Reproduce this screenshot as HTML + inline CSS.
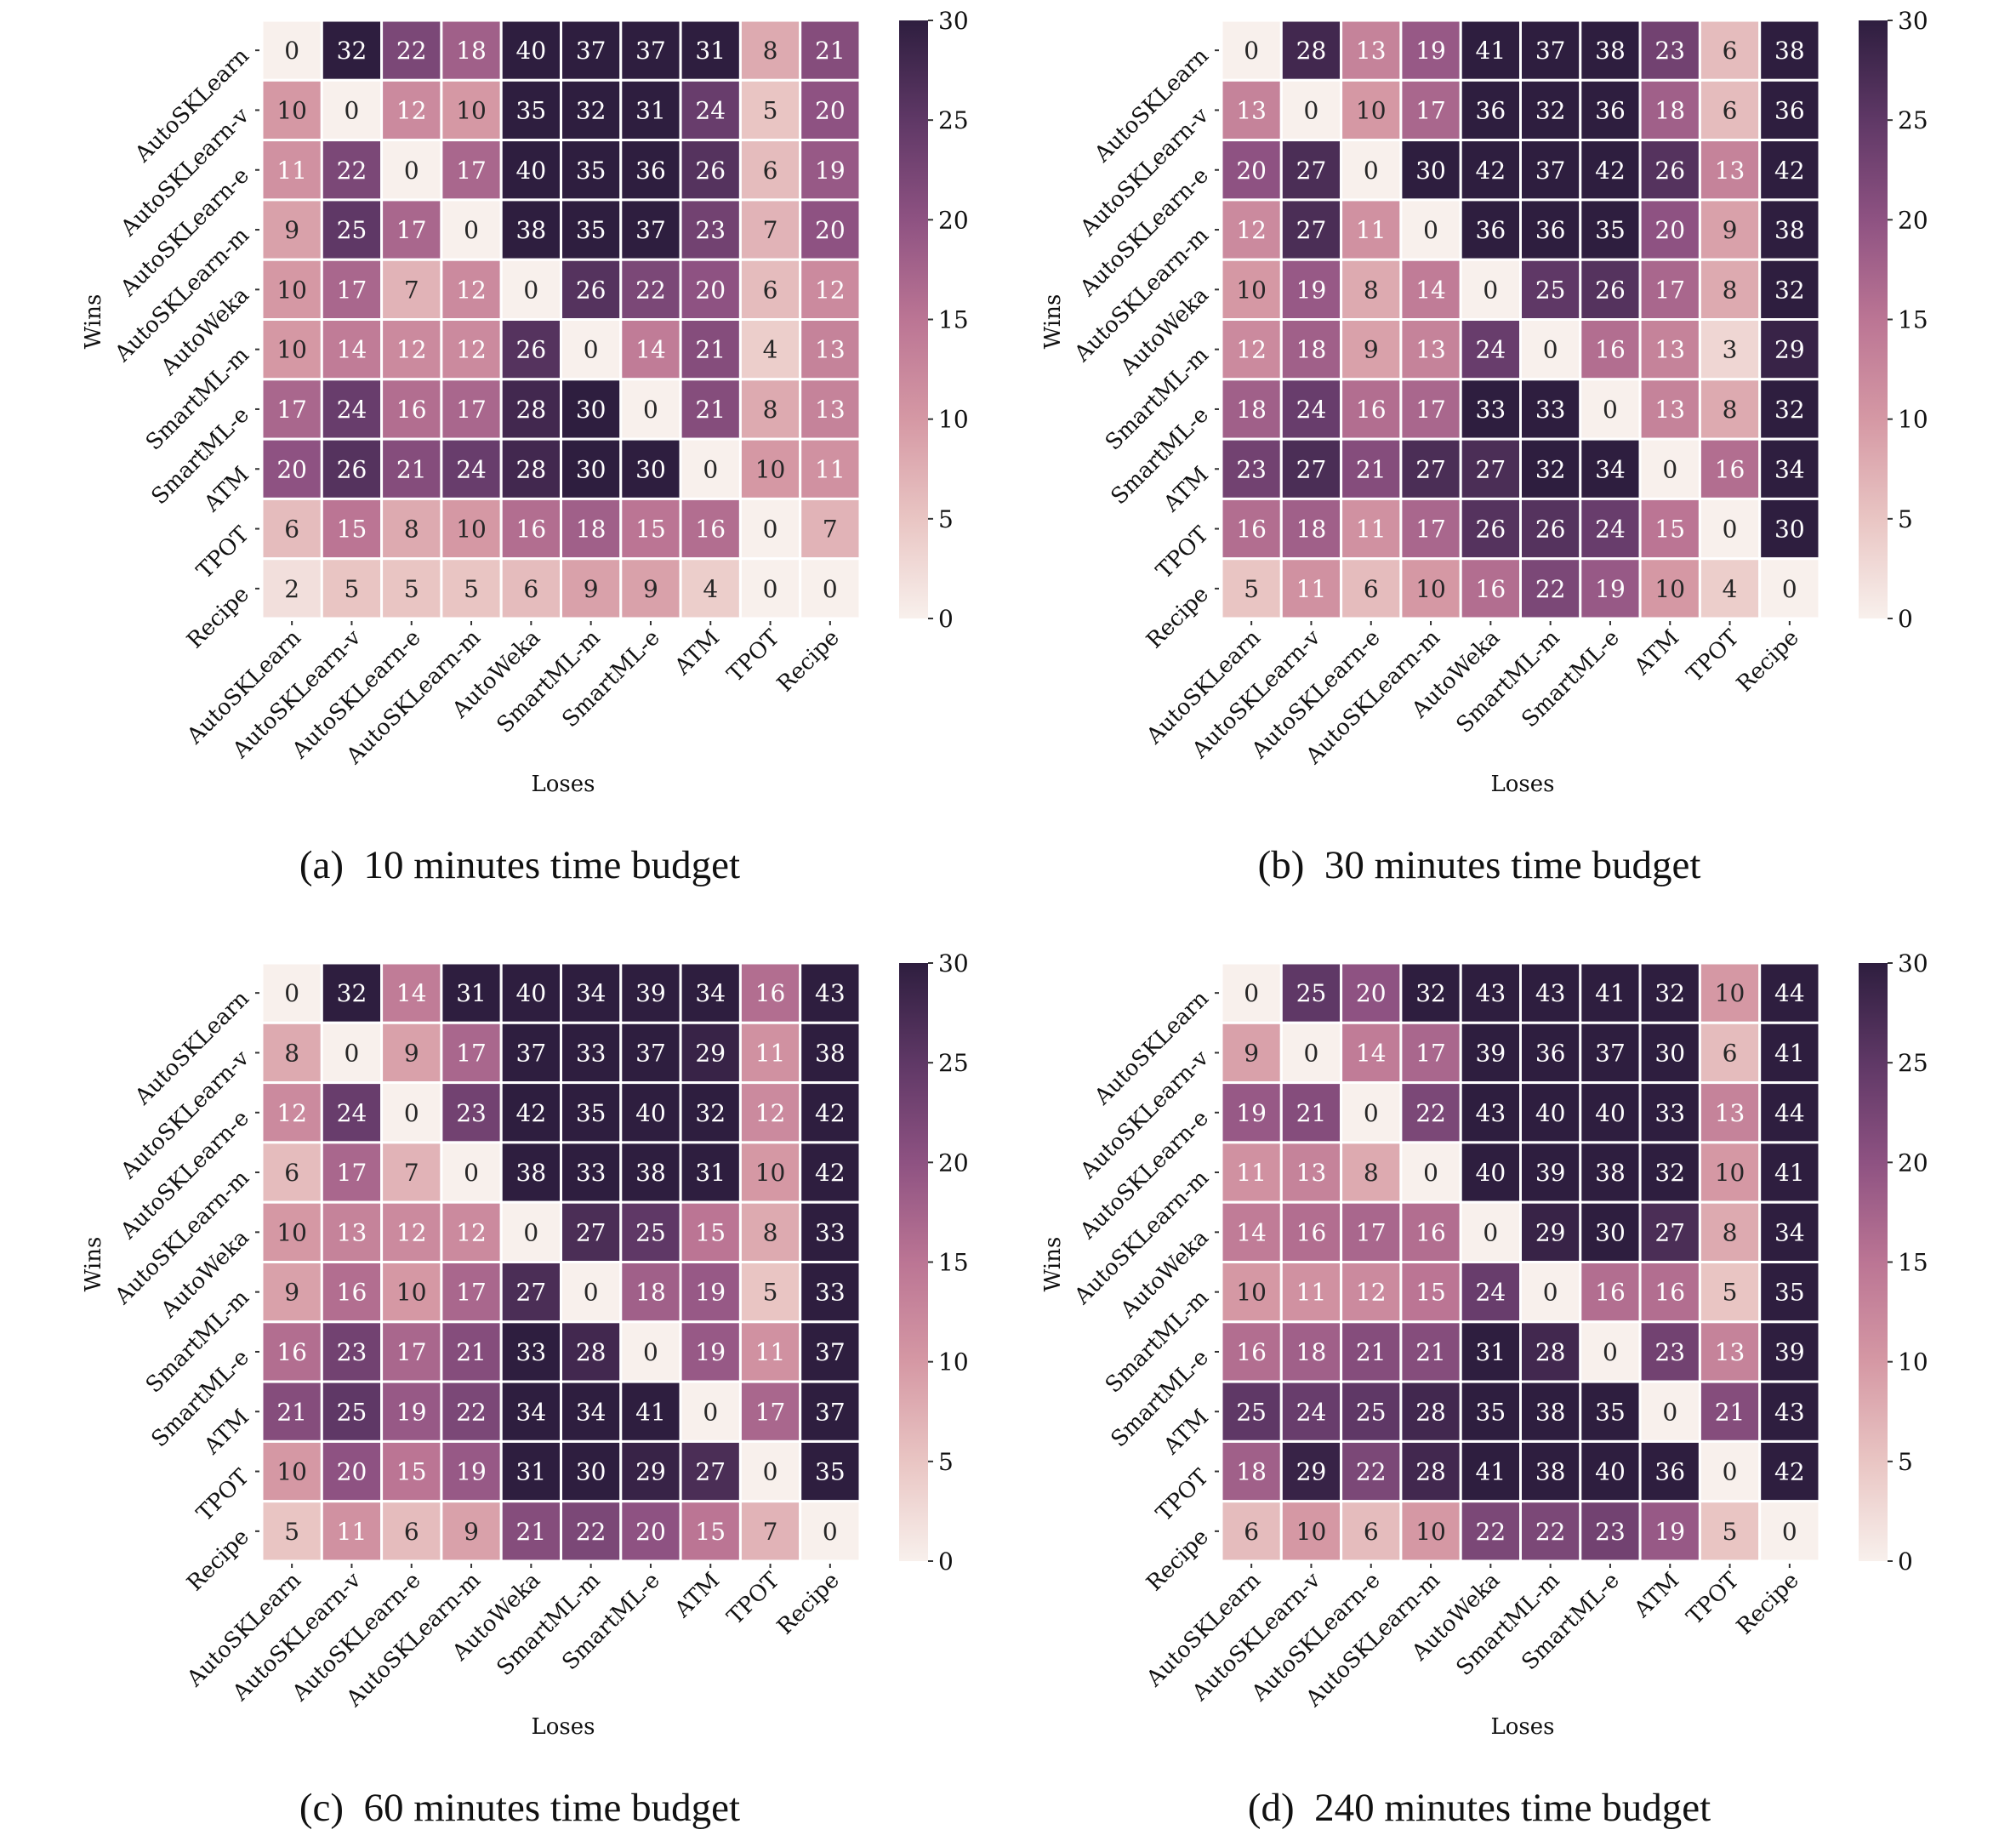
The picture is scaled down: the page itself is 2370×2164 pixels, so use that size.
<!DOCTYPE html>
<html><head><meta charset="utf-8"><style>
html,body{margin:0;padding:0;background:#fff;}
svg{display:block;}
text{font-family:"DejaVu Serif","Liberation Serif",serif;}
.cap{font-family:"Liberation Serif",serif;font-size:47px;white-space:pre;}
</style></head><body>
<svg id="fig" width="2370" height="2164" viewBox="0 0 2370 2164" xmlns="http://www.w3.org/2000/svg">
<defs>
<linearGradient id="cbg" x1="0" y1="1" x2="0" y2="0">
<stop offset="0" stop-color="#f8f0ec"/><stop offset="0.1667" stop-color="#e9c5c3"/><stop offset="0.3333" stop-color="#d598a4"/><stop offset="0.5" stop-color="#bb7594"/><stop offset="0.6667" stop-color="#8e5282"/><stop offset="0.8333" stop-color="#5f3866"/><stop offset="1" stop-color="#2e1e3f"/>
</linearGradient>
</defs>
</svg>
<script>
const labels = ["AutoSKLearn","AutoSKLearn-v","AutoSKLearn-e","AutoSKLearn-m","AutoWeka","SmartML-m","SmartML-e","ATM","TPOT","Recipe"];
const cbTicks = [0,5,10,15,20,25,30];
const captions = ["(a)  10 minutes time budget","(b)  30 minutes time budget","(c)  60 minutes time budget","(d)  240 minutes time budget"];
const dataA = [
[0,32,22,18,40,37,37,31,8,21],[10,0,12,10,35,32,31,24,5,20],[11,22,0,17,40,35,36,26,6,19],[9,25,17,0,38,35,37,23,7,20],
[10,17,7,12,0,26,22,20,6,12],[10,14,12,12,26,0,14,21,4,13],[17,24,16,17,28,30,0,21,8,13],[20,26,21,24,28,30,30,0,10,11],
[6,15,8,10,16,18,15,16,0,7],[2,5,5,5,6,9,9,4,0,0]];
const dataB = [
[0,28,13,19,41,37,38,23,6,38],[13,0,10,17,36,32,36,18,6,36],[20,27,0,30,42,37,42,26,13,42],[12,27,11,0,36,36,35,20,9,38],
[10,19,8,14,0,25,26,17,8,32],[12,18,9,13,24,0,16,13,3,29],[18,24,16,17,33,33,0,13,8,32],[23,27,21,27,27,32,34,0,16,34],
[16,18,11,17,26,26,24,15,0,30],[5,11,6,10,16,22,19,10,4,0]];
const dataC = [
[0,32,14,31,40,34,39,34,16,43],[8,0,9,17,37,33,37,29,11,38],[12,24,0,23,42,35,40,32,12,42],[6,17,7,0,38,33,38,31,10,42],
[10,13,12,12,0,27,25,15,8,33],[9,16,10,17,27,0,18,19,5,33],[16,23,17,21,33,28,0,19,11,37],[21,25,19,22,34,34,41,0,17,37],
[10,20,15,19,31,30,29,27,0,35],[5,11,6,9,21,22,20,15,7,0]];
const dataD = [
[0,25,20,32,43,43,41,32,10,44],[9,0,14,17,39,36,37,30,6,41],[19,21,0,22,43,40,40,33,13,44],[11,13,8,0,40,39,38,32,10,41],
[14,16,17,16,0,29,30,27,8,34],[10,11,12,15,24,0,16,16,5,35],[16,18,21,21,31,28,0,23,13,39],[25,24,25,28,35,38,35,0,21,43],
[18,29,22,28,41,38,40,36,0,42],[6,10,6,10,22,22,23,19,5,0]];

const stops=[[0,[248,240,236]],[5,[233,197,195]],[10,[213,152,164]],[15,[187,117,148]],[20,[142,82,130]],[25,[95,56,102]],[30,[46,30,63]]];
function color(v){v=Math.max(0,Math.min(30,v));for(let i=0;i<stops.length-1;i++){const[a,ca]=stops[i],[b,cb]=stops[i+1];if(v<=b){const t=(v-a)/(b-a);return 'rgb('+ca.map((c,k)=>Math.round(c+(cb[k]-c)*t)).join(',')+')';}}return 'rgb(46,30,63)';}
const NS="http://www.w3.org/2000/svg";
const svg=document.getElementById('fig');
function mk(tag,attrs,parent,txt){const e=document.createElementNS(NS,tag);for(const k in attrs)e.setAttribute(k,attrs[k]);if(txt!==undefined)e.textContent=txt;parent.appendChild(e);return e;}
const L=308,T=24,P=70.3;
function xs(j){return L+j*P;} function ys(i){return T+i*P;}
function cbY(v){return T+10*P-(v/30)*10*P;}
const panels=[[dataA,0,0],[dataB,1128,0],[dataC,0,1108],[dataD,1128,1108]];
panels.forEach(([data,ox,oy],p)=>{
  const g=mk('g',{transform:`translate(${ox},${oy})`},svg);
  
  
  data.forEach((row,i)=>row.forEach((v,j)=>{
    const r=mk('rect',{x:xs(j),y:ys(i),width:P,height:P,fill:color(v),stroke:'#fff','stroke-width':3},g);
    
    
    const t=mk('text',{x:xs(j)+P/2,y:ys(i)+P/2+10,'text-anchor':'middle','font-size':28,fill:v>10?'#fff':'#262626'},g,String(v));
    
    
  }));
  labels.forEach((lab,i)=>{
    const cy=ys(i)+P/2;
    mk('line',{x1:L-8,x2:L-3,y1:cy,y2:cy,stroke:'#333','stroke-width':2},g);
    const t=mk('text',{x:L-14,y:cy+8,'text-anchor':'end','font-size':26,fill:'#111',transform:`rotate(-45 ${L-14} ${cy+8})`},g,lab);
    
    
    const cx=xs(i)+P/2;
    mk('line',{x1:cx,x2:cx,y1:T+10*P+3,y2:T+10*P+8,stroke:'#333','stroke-width':2},g);
    const t2=mk('text',{x:cx+12,y:T+10*P+24,'text-anchor':'end','font-size':26,fill:'#111',transform:`rotate(-45 ${cx+12} ${T+10*P+24})`},g,lab);
    
    
  });
  const w=mk('text',{x:118,y:378,'text-anchor':'middle','font-size':26,fill:'#111',transform:'rotate(-90 118 378)'},g,'Wins');
  
  
  const lo=mk('text',{x:662,y:930,'text-anchor':'middle','font-size':26,fill:'#111'},g,'Loses');
  
  
  const cb=mk('rect',{x:1057,y:cbY(30),width:34,height:cbY(0)-cbY(30),fill:'url(#cbg)'},g);
  
  
  cbTicks.forEach(v=>{
    mk('line',{x1:1091,x2:1097,y1:cbY(v),y2:cbY(v),stroke:'#333','stroke-width':2},g);
    const t=mk('text',{x:1103,y:cbY(v)+10,'font-size':28,fill:'#111'},g,String(v));
    
    
  });
  const c=mk('text',{x:611,y:1032,'text-anchor':'middle',class:'cap',fill:'#111','xml:space':'preserve'},g,captions[p]);
  
  
});
</script>
</body></html>
